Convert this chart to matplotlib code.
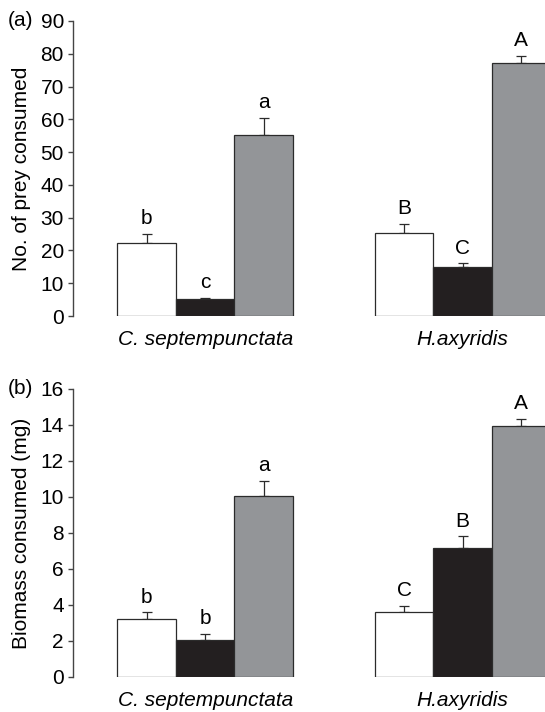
import numpy as np
import matplotlib
matplotlib.use("Agg")
from matplotlib import pyplot as plt

plt.rcParams["font.family"] = ["Liberation Sans", "DejaVu Sans"]

species = ["C. septempunctata", "H.axyridis"]

# prey counts per species: white, black, grey treatments
prey_mean = [[22.4, 5.1, 55.2], [25.4, 14.8, 77.3]]
prey_err = [[2.7, 0.5, 5.2], [2.8, 1.3, 2.0]]
prey_letters = [["b", "c", "a"], ["B", "C", "A"]]

# biomass (mg)
mass_mean = [[3.22, 2.05, 10.05], [3.59, 7.16, 13.95]]
mass_err = [[0.37, 0.33, 0.85], [0.37, 0.65, 0.38]]
mass_letters = [["b", "b", "a"], ["C", "B", "A"]]

bar_colors = ["white", "#231f20", "#939598"]
group_start = [0.76, 5.16]

fig = plt.figure(figsize=(5.45, 7.12), dpi=100)
ax_a = fig.add_axes([73 / 545, 1 - 316 / 712, 472 / 545, 295 / 712])
ax_b = fig.add_axes([73 / 545, 1 - 677 / 712, 472 / 545, 288 / 712])


def draw_panel(ax, means, errs, letters, ymax, step, ylabel, tag):
    for g in range(2):
        x = group_start[g] + 0.5 + np.arange(3)
        ax.bar(x, means[g], width=1.0, color=bar_colors,
               edgecolor="#2b2b2b", linewidth=0.9, zorder=2)
        ax.errorbar(x, means[g], yerr=[np.zeros(3), errs[g]], fmt="none",
                    ecolor="#2b2b2b", elinewidth=0.9, capsize=3.8,
                    capthick=0.9, zorder=1)
        for xi, m, e, s in zip(x, means[g], errs[g], letters[g]):
            ax.annotate(s, (xi, m + e), xytext=(0, 7), textcoords="offset points",
                        ha="center", va="baseline", fontsize=15)
        ax.annotate(species[g], (group_start[g] + 1.5, 0), xytext=(0, -17),
                    textcoords="offset points", ha="center", va="center",
                    fontsize=15, style="italic")

    ax.set_xlim(0, 472 / 58.5)
    ax.set_ylim(0, ymax)
    ax.set_yticks(np.arange(0, ymax + 1e-9, step))
    ax.set_xticks([])
    for side in ["top", "right", "bottom"]:
        ax.spines[side].set_visible(False)
    ax.spines["left"].set_color("#444444")
    ax.spines["left"].set_linewidth(1.0)
    ax.tick_params(axis="y", length=3.5, width=1.0, color="#444444",
                   pad=3, labelsize=15)
    ax.set_ylabel(ylabel, fontsize=15)
    ax.yaxis.set_label_coords(-0.089, 0.5)
    ax.text(-0.085, 1.0, tag, transform=ax.transAxes, ha="right",
            va="center", fontsize=15)


draw_panel(ax_a, prey_mean, prey_err, prey_letters, 90, 10,
           "No. of prey consumed", "(a)")
draw_panel(ax_b, mass_mean, mass_err, mass_letters, 16, 2,
           "Biomass consumed (mg)", "(b)")

for ax in (ax_a, ax_b):
    ax.patch.set_visible(False)
    for c in ax.get_children():
        c.set_clip_on(c in ax.patches)

fig.savefig("out.png", dpi=100)
